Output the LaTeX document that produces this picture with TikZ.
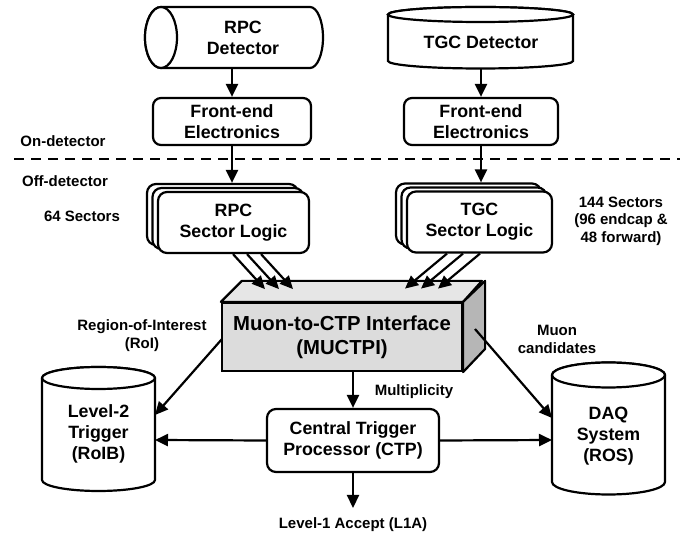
\documentclass[tikz,border=0pt]{standalone}
\usepackage{fontspec}
\setmainfont{Liberation Sans}
\usetikzlibrary{arrows.meta,calc}
\definecolor{frontc}{HTML}{DCDCDC}
\definecolor{topc}{HTML}{E6E6E6}
\definecolor{sidec}{HTML}{B6B6B6}
\begin{document}
\begin{tikzpicture}[x=1pt,y=-1pt,line width=2.2pt,
  arr/.style={-{Triangle[length=13pt,width=12pt]},line width=2.2pt},
  boxtxt/.style={font=\bfseries\fontsize{17.8}{21}\selectfont,align=center},
  lbl/.style={font=\bfseries\fontsize{15}{17.5}\selectfont,align=center},
  rbox/.style={draw,fill=white,rounded corners=8pt,inner sep=0pt,boxtxt},
  slbox/.style={draw,fill=white,rounded corners=9pt,inner sep=0pt,minimum height=61pt,boxtxt}]
\useasboundingbox (0,0) rectangle (694,534);

% ---------- RPC detector (horizontal cylinder)
\draw[fill=white] (161,7) -- (310,7) arc[start angle=-90,end angle=90,x radius=13,y radius=30.5]
  -- (161,68) arc[start angle=90,end angle=270,x radius=16,y radius=30.5];
\draw[fill=white] (161,37.5) ellipse[x radius=16,y radius=30.5];
\node[boxtxt] (rpcdet) at (243,38) {RPC\\Detector};
\coordinate (rpcdetB) at (232,68);

% ---------- TGC detector (vertical cylinder)
\draw[fill=white] (388,14.5) -- (388,61) arc[start angle=180,end angle=0,x radius=92.5,y radius=7.5]
  -- (573,14.5) arc[start angle=0,end angle=-180,x radius=92.5,y radius=7.5];
\draw[fill=white] (480.5,14.5) ellipse[x radius=92.5,y radius=7.5];
\node[boxtxt] (tgcdet) at (481,42) {TGC Detector};
\coordinate (tgcdetB) at (481,68.5);

% ---------- front-end electronics
\node[rbox,minimum width=158pt,minimum height=47pt] (rpcfe) at (232,121.5) {Front-end\\Electronics};
\node[rbox,minimum width=154pt,minimum height=47pt] (tgcfe) at (481,121.5) {Front-end\\Electronics};
\draw[arr] (rpcdetB) -- (rpcfe.north);
\draw[arr] (tgcdetB) -- (tgcfe.north);

% ---------- on/off detector separation
\coordinate (dashL) at (14,159);
\coordinate (dashR) at (680,159);
\draw[dash pattern=on 10pt off 7pt] (dashL) -- (dashR);
\node[lbl] (ondet) at (63,141) {On-detector};
\node[lbl] (offdet) at (65,181) {Off-detector};

% ---------- sector logic stacks
\node[slbox,minimum width=151pt] (rpcsl3) at (222.5,214.5) {};
\node[slbox,minimum width=151pt] (rpcsl2) at (228,218.5) {};
\node[slbox,minimum width=151pt] (rpcsl) at (233.5,222.5) {RPC\\Sector Logic};
\node[slbox,minimum width=145pt] (tgcsl3) at (468.5,214) {};
\node[slbox,minimum width=145pt] (tgcsl2) at (474,218) {};
\node[slbox,minimum width=145pt] (tgcsl) at (479.5,222) {TGC\\Sector Logic};
\draw[arr] (rpcfe.south) -- (rpcfe.south |- rpcsl3.north);
\draw[arr] (tgcfe.south) -- (tgcfe.south |- tgcsl3.north);
\node[lbl] (rpcn) at (82,216) {64 Sectors};
\node[lbl] (tgcn) at (621,221) {144 Sectors\\(96 endcap \&\\48 forward)};

% ---------- MUCTPI box
\node[draw,fill=frontc,minimum width=240pt,minimum height=68pt,inner sep=0pt,
  font=\bfseries\fontsize{20.3}{24}\selectfont,align=center] (muctpi) at (342,337)
  {Muon-to-CTP Interface\\(MUCTPI)};
\draw[fill=topc,line join=round] (muctpi.north west) -- ++(21,-21) -- ++(240,0) -- (muctpi.north east) -- cycle;
\draw[fill=sidec,line join=round] (muctpi.north east) -- ++(22,-21) -- ++(0,68) -- (muctpi.south east) -- cycle;

% triple arrows
\foreach \i/\dx in {1/-0.5,2/13.5,3/27.5}{
  \coordinate (rs\i) at ($(rpcsl.south)+(\dx,0)$);
  \coordinate (rt\i) at ($(rs\i)+(32,35)$);
  \draw[arr] (rs\i) -- (rt\i);
}
\foreach \i/\dx in {1/-32.5,2/-16.5,3/0.5}{
  \coordinate (ts\i) at ($(tgcsl.south)+(\dx,0)$);
  \coordinate (tt\i) at ($(ts\i)+(-42,35)$);
  \draw[arr] (ts\i) -- (tt\i);
}

% ---------- Level-2 trigger cylinder
\draw[fill=white] (42,378) -- (42,480) arc[start angle=180,end angle=0,x radius=56.5,y radius=11]
  -- (155,378) arc[start angle=0,end angle=-180,x radius=56.5,y radius=11];
\draw[fill=white] (98.5,378) ellipse[x radius=56.5,y radius=11];
\node[boxtxt] (l2) at (98.5,434) {Level-2\\Trigger\\(RoIB)};
\coordinate (l2a) at (155,415);
\coordinate (l2b) at (155,440);

% ---------- DAQ cylinder
\draw[fill=white] (552,375) -- (552,482) arc[start angle=180,end angle=0,x radius=56.5,y radius=12.5]
  -- (665,375) arc[start angle=0,end angle=-180,x radius=56.5,y radius=12.5];
\draw[fill=white] (608.5,375) ellipse[x radius=56.5,y radius=12.5];
\node[boxtxt] (daq) at (608.5,436) {DAQ\\System\\(ROS)};
\coordinate (daqa) at (552,418);
\coordinate (daqb) at (552,440);

% ---------- CTP
\node[rbox,rounded corners=9pt,minimum width=172pt,minimum height=63pt] (ctp) at (353,440.5) {Central Trigger\\Processor (CTP)};
\coordinate (l1a) at (353,508);

% ---------- connectors
\coordinate (mucL) at (222,339);
\coordinate (mucR) at (475,329);
\draw[arr] (mucL) -- (l2a);
\draw[arr] (mucR) -- (daqa);
\draw[arr] (ctp.north |- muctpi.south) -- (ctp.north);
\draw[arr] (ctp.west) -- (l2b);
\draw[arr] (ctp.east) -- (daqb);
\draw[arr] (ctp.south) -- (l1a);

% ---------- labels
\node[lbl] (roi) at (142,335.5) {Region-of-Interest\\(RoI)};
\node[lbl] (mult) at (414,392) {Multiplicity};
\node[lbl] (mucand) at (557,339.5) {Muon\\candidates};
\node[lbl] (l1alab) at (353,525) {Level-1 Accept (L1A)};
\end{tikzpicture}
\end{document}
